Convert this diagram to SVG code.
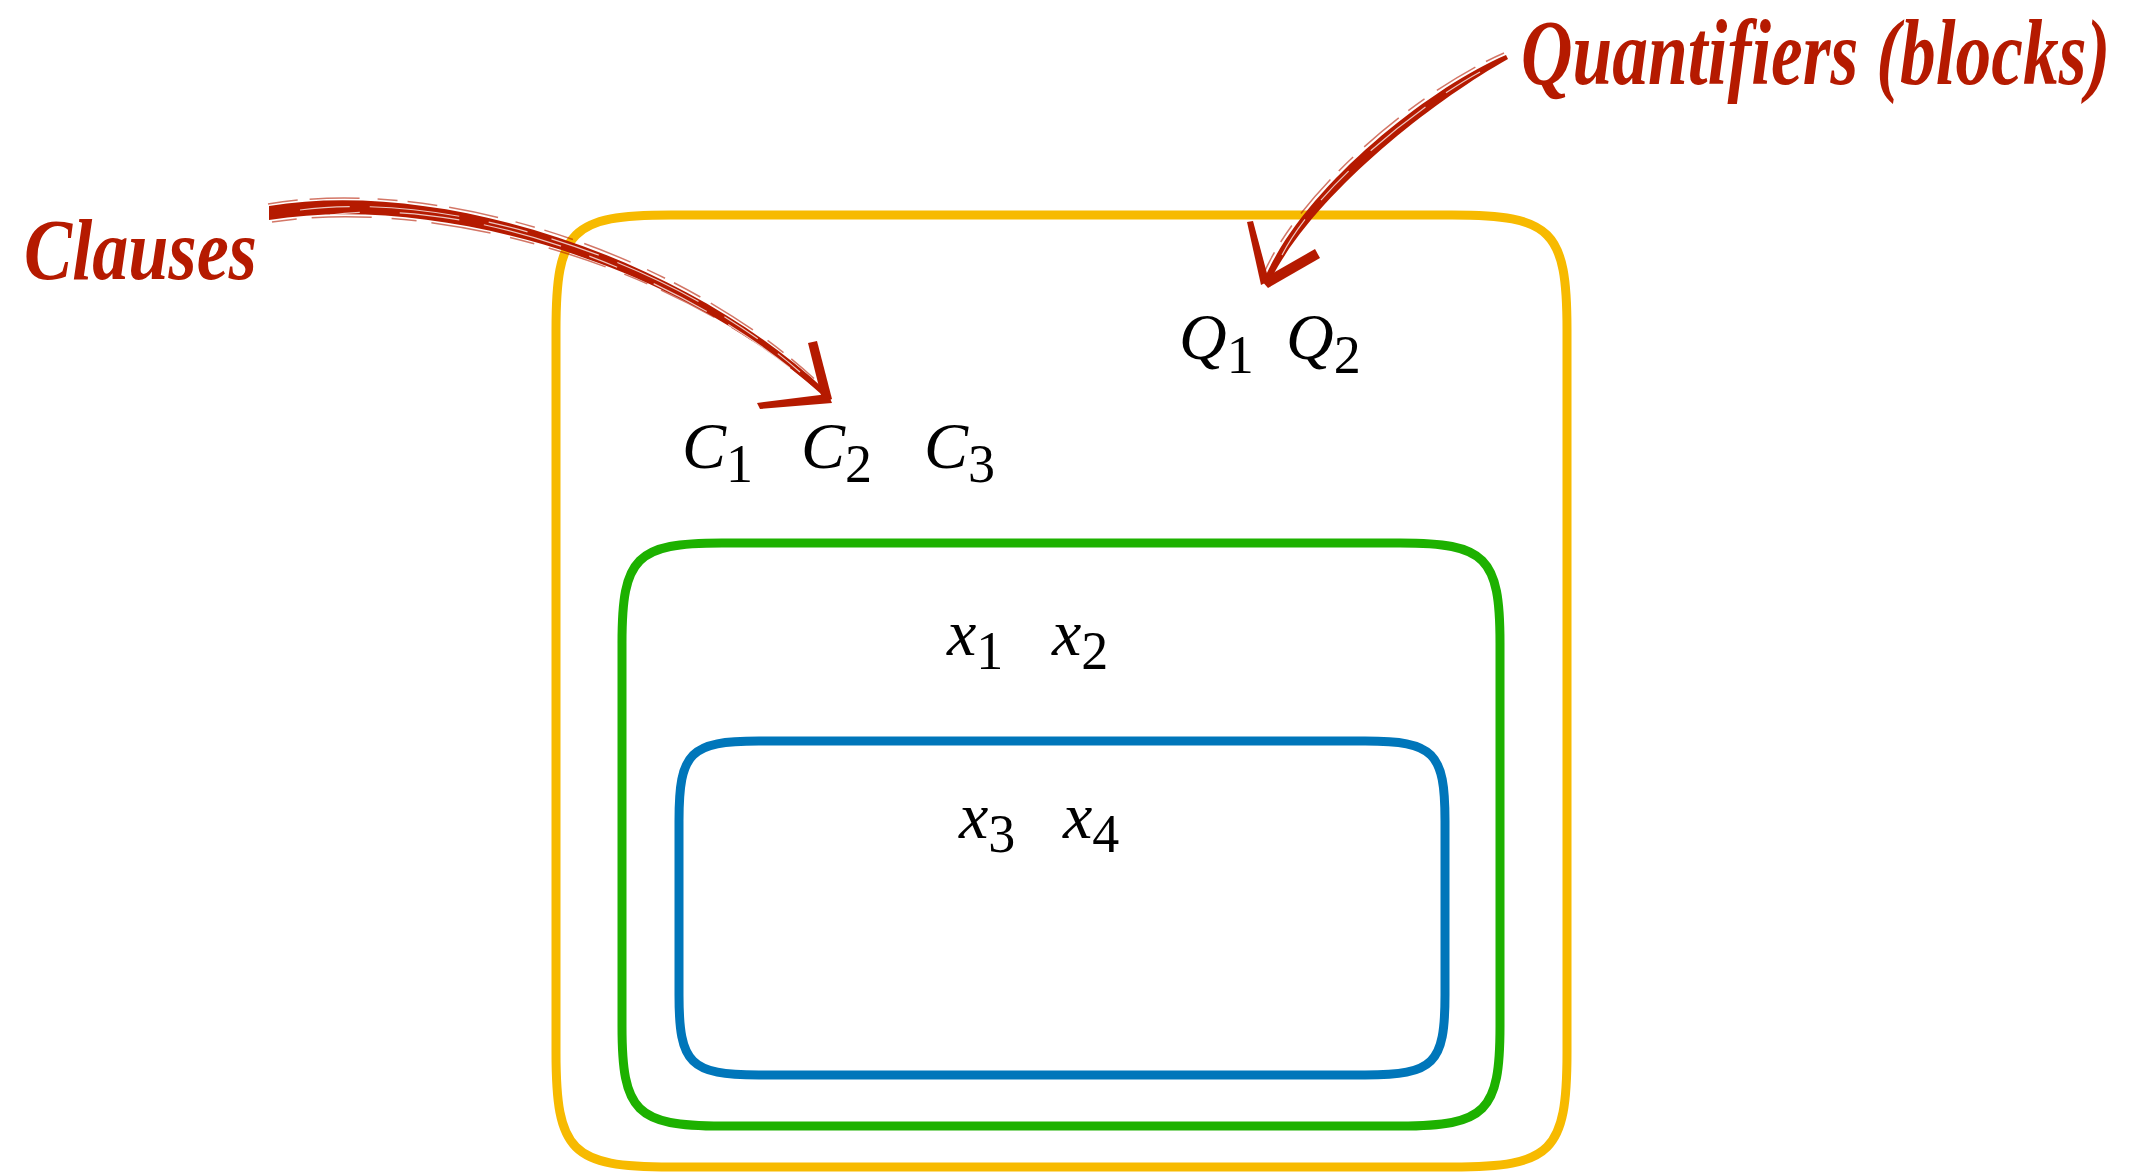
<svg xmlns="http://www.w3.org/2000/svg" width="2133" height="1173" viewBox="0 0 2133 1173">
<style>
.box{fill:none;stroke-width:9;stroke-linejoin:round}
.yel{stroke:#F7BA00}.grn{stroke:#1DB100}.blu{stroke:#0076BA}
.m{font-family:"Liberation Serif","Times New Roman",serif;font-style:italic;font-size:66px;fill:#000}
.s{font-style:normal;font-size:54px}
.lbl{font-family:"Liberation Serif","DejaVu Serif",serif;font-style:italic;font-weight:bold;fill:#B51A00}
.brush{fill:#B51A00}
.fray{fill:none;stroke:#B51A00;stroke-width:1.5;opacity:0.6}
.streak{fill:none;stroke:#fff;stroke-width:1.2;opacity:0.75}
</style>
<rect width="2133" height="1173" fill="#fff"/>
<g id="outer-box">
<path class="box yel" d="M671,215 H1452 C1552,215 1567,230 1567,330 V1052 C1567,1152 1552,1167 1452,1167 H671 C571,1167 556,1152 556,1052 V330 C556,230 571,215 671,215 Z"/>
</g>
<g id="middle-box">
<path class="box grn" d="M722,543 H1400 C1486,543 1500,557 1500,643 V1026 C1500,1112 1486,1126 1400,1126 H722 C636,1126 622,1112 622,1026 V643 C622,557 636,543 722,543 Z"/>
</g>
<g id="inner-box">
<path class="box blu" d="M759,741 H1365 C1434,741 1445,752 1445,821 V995 C1445,1064 1434,1075 1365,1075 H759 C690,1075 679,1064 679,995 V821 C679,752 690,741 759,741 Z"/>
</g>
<g id="clauses">
<text class="m" x="682" y="468">C<tspan class="s" dy="14">1</tspan></text>
<text class="m" x="801" y="468">C<tspan class="s" dy="14">2</tspan></text>
<text class="m" x="924" y="468">C<tspan class="s" dy="14">3</tspan></text>
</g>
<g id="quantifiers">
<text class="m" x="1179" y="359">Q<tspan class="s" dy="14">1</tspan></text>
<text class="m" x="1286" y="359">Q<tspan class="s" dy="14">2</tspan></text>
</g>
<g id="block1-vars">
<text class="m" x="947" y="655">x<tspan class="s" dy="14">1</tspan></text>
<text class="m" x="1052" y="655">x<tspan class="s" dy="14">2</tspan></text>
</g>
<g id="block2-vars">
<text class="m" x="959" y="838">x<tspan class="s" dy="14">3</tspan></text>
<text class="m" x="1063" y="838">x<tspan class="s" dy="14">4</tspan></text>
</g>
<g id="label-clauses">
<text class="lbl" font-size="86" transform="translate(24,279) scale(0.84,1)">Clauses</text>
</g>
<g id="label-quantifiers">
<text class="lbl" font-size="94" transform="translate(1521,84) scale(0.76,1)">Quantifiers (blocks)</text>
</g>
<g id="connectors">
<g id="arrow-clauses">
<path class="brush" d="M269,206 C440,178 682,256 825,390 L821,394 C677,264 440,193 269,220 Z"/>
<path class="fray" d="M268,204 C440,175 683,253 822,386" stroke-dasharray="30 12 50 18 20 10"/>
<path class="fray" d="M272,222 C440,196 676,267 812,385" stroke-dasharray="25 15 60 20"/>
<path class="streak" d="M300,210 C450,190 670,258 800,372" stroke-dasharray="50 20 90 30 40 25"/>
<path class="streak" d="M330,215 C460,197 660,264 790,368" stroke-dasharray="30 40 60 25 80 30"/>
<path class="brush" d="M808,343 L817,341 L832,399 L823,403 Z"/>
<path class="brush" d="M757,403 L828,394 L832,403 L760,409 Z"/>
</g>
<g id="arrow-quantifiers">
<path class="brush" d="M1508,59 C1433,101 1315,193 1271,279 L1265,277 C1305,187 1427,89 1506,55 Z"/>
<path class="fray" d="M1504,53 C1425,87 1302,185 1263,275" stroke-dasharray="20 12 45 15"/>
<path class="streak" d="M1480,72 C1420,105 1318,185 1282,255" stroke-dasharray="40 25 70 30"/>
<path class="brush" d="M1247,222 L1253,221 L1269,281 L1261,285 Z"/>
<path class="brush" d="M1261,280 L1315,249 L1320,258 L1268,288 Z"/>
</g>
</g>
</svg>
